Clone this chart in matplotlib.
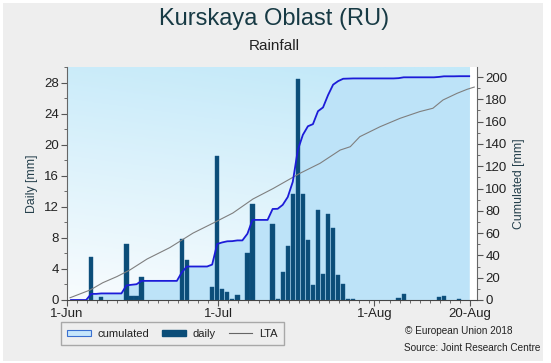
import numpy as np
import matplotlib
matplotlib.use("Agg")
import matplotlib.pyplot as plt
from matplotlib.patches import Patch, Rectangle
from matplotlib.lines import Line2D
from matplotlib.ticker import MultipleLocator, FixedLocator
from matplotlib.colors import LinearSegmentedColormap

plt.rcParams['font.family'] = ['Liberation Sans', 'DejaVu Sans']

# ---------------- data ----------------
n_days = 80  # days since 1-Jun covered by the series
rain_day = [4, 6, 11, 12, 13, 14, 22, 23, 28, 29, 30, 31, 32, 33, 35, 36,
            40, 41, 42, 43, 44, 45, 46, 47, 48, 49, 50, 51, 52, 53, 54, 55,
            56, 65, 66, 73, 74, 77]
rain_mm = [5.5, 0.4, 7.2, 0.55, 0.5, 3.0, 7.8, 5.1, 1.7, 18.5, 1.4, 1.0,
           0.15, 0.65, 6.0, 12.4, 9.8, 0.15, 3.55, 7.0, 13.7, 28.5, 13.6,
           7.7, 1.9, 11.6, 3.4, 11.1, 9.3, 3.2, 2.1, 0.15, 0.15, 0.25, 0.75,
           0.35, 0.55, 0.1]
lta_day = [0.6, 4.6, 7.1, 9.9, 12.5, 15.9, 20.4, 25.0, 29.0, 32.9, 36.9,
           40.9, 44.8, 46.2, 50.2, 54.2, 56.2, 58.1, 62.1, 66.1, 70.0, 72.6,
           74.6, 77.4, 79.4, 80.8]
lta_mm = [2, 9, 15.5, 21, 27, 36.8, 47, 60, 69, 78, 90.6, 100, 110, 113.6,
          122.6, 134.5, 137.5, 146.5, 155.4, 163, 169, 172, 179.4, 185.4,
          189, 191]
tick_days = [0, 30, 61, 80]
tick_labels = ['1-Jun', '1-Jul', '1-Aug', '20-Aug']

daily = np.zeros(n_days)
daily[rain_day] = rain_mm
cumulated = np.cumsum(daily)
day_offset = 0.8
x_days = np.arange(n_days) + day_offset
x_rain = np.array(rain_day) + day_offset
x_end = x_days[-1]

# ---------------- figure ----------------
W, H = 551, 363
fig = plt.figure(figsize=(W / 100, H / 100), dpi=100, facecolor='white')
fig.patches.append(Rectangle((3 / W, 2 / H), 540 / W, 358 / H,
                             transform=fig.transFigure, facecolor='#eeeeee',
                             edgecolor='none', zorder=-10))

rect = [67 / W, (H - 300) / H, 410 / W, 233 / H]
ax = fig.add_axes(rect)
axc = ax.twinx()
axl = ax.twinx()
axc.set_zorder(1)
ax.set_zorder(2)
axl.set_zorder(3)
ax.patch.set_visible(False)
axc.patch.set_visible(True)
axc.set_facecolor('white')

xlim = (0, 81.35)
ylim_d = (0, 30)
ylim_c = (0, 209)

# background gradient
cmap = LinearSegmentedColormap.from_list('bg', ['#f8fcfe', '#c3e9f9'])
gy, gx = np.mgrid[0:1:200j, 0:1:200j]
grad = np.clip(0.85 * gy + 0.2 * gx, 0, 1)
axc.imshow(grad, extent=(0, x_end, 0, ylim_c[1]), origin='lower',
           aspect='auto', cmap=cmap, zorder=0, interpolation='bilinear')
axc.fill_between(x_days, cumulated, color='#bde3f8', lw=0, zorder=1)

# bars
ax.bar(x_rain, rain_mm, width=0.86, color='#0b4d78', edgecolor='#16598a',
       linewidth=0.3, zorder=2)

# lines
axl.plot(lta_day, lta_mm, color='#7f7f7f', lw=0.8)
axl.plot(x_days, cumulated, color='#1c1cd8', lw=1.3)

for a in (ax, axc, axl):
    a.set_xlim(*xlim)
ax.set_ylim(*ylim_d)
axc.set_ylim(*ylim_c)
axl.set_ylim(*ylim_c)
axl.axis('off')

# spines
for s in ('top', 'right'):
    ax.spines[s].set_visible(False)
for s in ('top', 'left', 'bottom'):
    axc.spines[s].set_visible(False)
ax.spines['left'].set_color('#666666')
ax.spines['bottom'].set_color('#444444')
axc.spines['right'].set_color('#666666')

# ticks
ax.xaxis.set_major_locator(FixedLocator(tick_days))
ax.set_xticklabels(tick_labels)
ax.xaxis.set_minor_locator(MultipleLocator(2))
ax.yaxis.set_major_locator(MultipleLocator(4))
ax.yaxis.set_minor_locator(MultipleLocator(2))
axc.yaxis.set_major_locator(MultipleLocator(20))
axc.yaxis.set_minor_locator(MultipleLocator(10))
for a in (ax, axc):
    a.tick_params(which='major', direction='out', length=4, width=0.8,
                  color='#555555', labelsize=9.5, labelcolor='#222222', pad=2)
    a.tick_params(which='minor', direction='out', length=2.5, width=0.6,
                  color='#555555')

lab_col = '#243f4b'
ax.set_ylabel('Daily [mm]', fontsize=8.8, color=lab_col, labelpad=4)
axc.set_ylabel('Cumulated [mm]', fontsize=8.8, color=lab_col, labelpad=4)

# titles
fig.text(0.497, 1 - 19 / H, 'Kurskaya Oblast (RU)', ha='center', va='center',
         fontsize=17, color='#173a44')
fig.text(0.497, 1 - 46 / H, 'Rainfall', ha='center', va='center',
         fontsize=11, color='#222222')

# legend
handles = [Patch(facecolor='#c6e6fb', edgecolor='#3a6fd0', lw=0.8),
           Patch(facecolor='#0b4d78', edgecolor='#0b4d78'),
           Line2D([], [], color='#666666', lw=0.8)]
leg = fig.legend(handles, ['cumulated', 'daily', 'LTA'], ncol=3,
                 loc='lower left', bbox_to_anchor=(55 / W, (H - 351) / H),
                 frameon=True, fancybox=False, edgecolor='#a8a8a8',
                 facecolor='#eeeeee', framealpha=1, fontsize=8,
                 handlelength=2.1, handleheight=0.5, handletextpad=0.6,
                 columnspacing=1.2, borderpad=0.6)
for t in leg.get_texts():
    t.set_color('#222222')

fig.text(405 / W, 1 - 331 / H, '\u00a9 European Union 2018', fontsize=7.2,
         color='#222222', va='center')
fig.text(404 / W, 1 - 348 / H, 'Source: Joint Research Centre', fontsize=7.2,
         color='#222222', va='center')

fig.savefig('out.png', dpi=100, facecolor=fig.get_facecolor())
